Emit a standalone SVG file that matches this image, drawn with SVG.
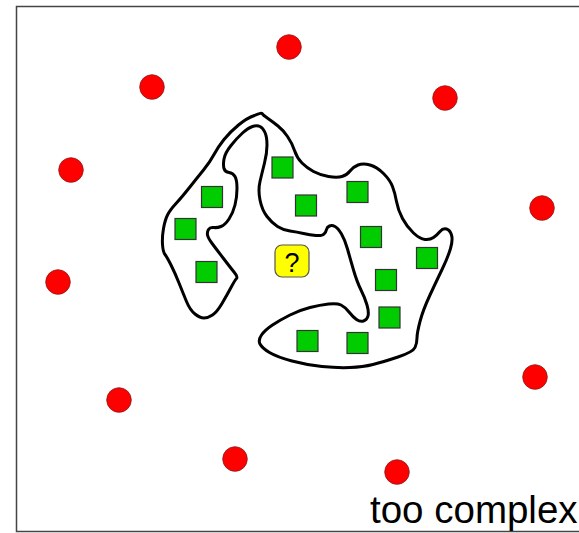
<svg xmlns="http://www.w3.org/2000/svg" width="579" height="533" viewBox="0 0 579 533">
<style>
.red{fill:#ff0000;stroke:#8a1a1a;stroke-width:0.8}
.sq{fill:#00cc00;stroke:#333;stroke-width:1.2}
.blob{fill:#fff;stroke:#000;stroke-width:3;stroke-linejoin:round}
.q{fill:#ffff00;stroke:#555;stroke-width:1.2}
text{font-family:"Liberation Sans",Arial,sans-serif;fill:#000}
</style>
<rect x="0" y="0" width="579" height="533" fill="#fff"/>
<rect x="16.5" y="6.5" width="600" height="525" fill="none" stroke="#444" stroke-width="1.5"/>
<g id="region">
<path class="blob" d="M262.5,114 Q262,112 254.5,115.5 Q247,118 238.5,125 Q230,132 224,139.5 Q218,147 214,154.5 Q210,162 203.5,170 Q197,178 189.5,187.5 Q182,197 176,203.5 Q170,210 167.5,215 Q165,220 163.5,228.5 Q162,237 162.5,244.5 Q163,252 165,254.5 Q167,257 171,265 Q175,273 179,283 Q183,293 186.5,301.5 Q190,310 195,314 Q200,318 204,318 Q208,318 212.5,315 Q217,312 222,303.5 Q227,295 231,287.5 Q235,280 236.5,278.5 Q238,277 234,272 Q230,267 223.5,258.5 Q217,250 212.5,244 Q208,238 207.5,235 Q207,232 208.5,229.5 Q210,227 213.5,227.5 Q217,228 221,226.5 Q225,225 229,219 Q233,213 235,205 Q237,197 237,188.5 Q237,180 235,176.5 Q233,173 229,172.5 Q225,172 224,168.5 Q223,165 224,159 Q225,153 231,145.5 Q237,138 242.5,133 Q248,128 252.5,126.5 Q257,125 260,126.5 Q263,128 265,132.5 Q267,137 267,145 Q267,153 264.5,163 Q262,173 260,181.5 Q258,190 260,200 Q262,210 267,216.5 Q272,223 277.5,226.5 Q283,230 290,231 Q297,232 303.5,233.5 Q310,235 316,235.5 Q322,236 324,234 Q326,232 326.5,229.5 Q327,227 329.5,226 Q332,225 335,226.5 Q338,228 341.5,234 Q345,240 347.5,249 Q350,258 353.5,270 Q357,282 361,290 Q365,298 367,305 Q369,312 368,316 Q367,320 363.5,321 Q360,322 356.5,319.5 Q353,317 349,312 Q345,307 341,305 Q337,303 328.5,304 Q320,305 310,307.5 Q300,310 290,315 Q280,320 272.5,325 Q265,330 261.5,335 Q258,340 260,344 Q262,348 269.5,352.5 Q277,357 292,361 Q307,365 322,366.5 Q337,368 350,367.5 Q363,367 373,364.5 Q383,362 398,357 Q413,352 415,347.5 Q417,343 417,338 Q417,333 420,321.5 Q423,310 430,295 Q437,280 442.5,268.5 Q448,257 450.5,248.5 Q453,240 451.5,235 Q450,230 446.5,229 Q443,228 440,231.5 Q437,235 433.5,237.5 Q430,240 425,239.5 Q420,239 413.5,233 Q407,227 402.5,218.5 Q398,210 396.5,201.5 Q395,193 392.5,186.5 Q390,180 383.5,173.5 Q377,167 370,165 Q363,163 358,165 Q353,167 350,171 Q347,175 342,176.5 Q337,178 328.5,176.5 Q320,175 313.5,171.5 Q307,168 302,163 Q297,158 294.5,150.5 Q292,143 287.5,136.5 Q283,130 278,126 Q273,122 268,118.5 Q263,115 262.5,114 Z"/>
</g>
<g id="outside">
<circle class="red" cx="289" cy="47" r="12.3"/>
<circle class="red" cx="152" cy="87" r="12.3"/>
<circle class="red" cx="445" cy="98" r="12.3"/>
<circle class="red" cx="71" cy="170" r="12.3"/>
<circle class="red" cx="542" cy="208" r="12.3"/>
<circle class="red" cx="58" cy="282" r="12.3"/>
<circle class="red" cx="119" cy="400" r="12.3"/>
<circle class="red" cx="535" cy="377" r="12.3"/>
<circle class="red" cx="235" cy="459" r="12.3"/>
<circle class="red" cx="397" cy="472" r="12.3"/>
</g>
<g id="inside">
<rect class="sq" x="272" y="157" width="21" height="21"/>
<rect class="sq" x="201.5" y="186.5" width="21" height="21"/>
<rect class="sq" x="175" y="218.5" width="21" height="21"/>
<rect class="sq" x="196" y="261.5" width="21" height="21"/>
<rect class="sq" x="295.5" y="195" width="21" height="21"/>
<rect class="sq" x="347" y="181.5" width="21" height="21"/>
<rect class="sq" x="360.5" y="226.5" width="21" height="21"/>
<rect class="sq" x="416.5" y="247.5" width="21" height="21"/>
<rect class="sq" x="375.5" y="269.5" width="21" height="21"/>
<rect class="sq" x="379" y="307" width="21" height="21"/>
<rect class="sq" x="297" y="330.5" width="21" height="21"/>
<rect class="sq" x="347" y="332.5" width="21" height="21"/>
</g>
<g id="query">
<rect class="q" x="275" y="245" width="34" height="32" rx="7"/>
<text x="292" y="272" font-size="27" text-anchor="middle">?</text>
</g>
<text x="370" y="523" font-size="38.5">too complex</text>
</svg>
